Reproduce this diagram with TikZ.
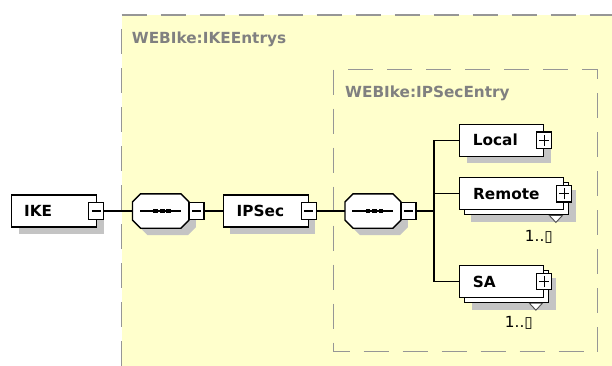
\documentclass[tikz,border=0pt]{standalone}
\usepackage{fontspec}
\setmainfont{DejaVu Sans}
\usetikzlibrary{shadows}
\definecolor{bgyellow}{RGB}{255,255,204}
\definecolor{dashgray}{RGB}{150,150,150}
\definecolor{labgray}{RGB}{128,128,128}
\definecolor{shgray}{RGB}{196,196,196}
\newcommand\octpath[1]{([xshift=8pt]#1.north west) -- ([xshift=-8pt]#1.north east) -- ([yshift=-8pt]#1.north east) -- ([yshift=8pt]#1.south east) -- ([xshift=-8pt]#1.south east) -- ([xshift=8pt]#1.south west) -- ([yshift=8pt]#1.south west) -- ([yshift=-8pt]#1.north west) -- cycle}
\begin{document}
\begin{tikzpicture}[x=1pt,y=1pt,
  conn/.style={line width=1.3pt, black},
  shad/.style={drop shadow={shadow xshift=7pt, shadow yshift=-7pt, fill=shgray, opacity=1}},
  elem/.style={draw=black, fill=white, line width=1.4pt, rectangle, inner sep=0pt, minimum height=32pt, anchor=west},
  hold/.style={rectangle, inner sep=0pt, minimum width=56pt, minimum height=34pt, anchor=west},
  etext/.style={anchor=west, inner sep=0pt, font=\fontsize{15.3}{18}\selectfont\bfseries},
  grouplab/.style={anchor=base west, inner sep=0pt, text=labgray, font=\fontsize{15.3}{18}\selectfont\bfseries},
  occ/.style={inner sep=0pt, font=\fontsize{15.3}{18}\selectfont},
  pmbox/.style={draw=black, fill=white, line width=1.1pt, rectangle, inner sep=0pt, minimum width=15pt, minimum height=16.5pt},
  minusbox/.style={pmbox, path picture={\draw[line width=1.1pt] ([xshift=-4.5pt]path picture bounding box.center) -- ([xshift=4.5pt]path picture bounding box.center);}},
  plusbox/.style={pmbox, path picture={\draw[line width=1.1pt] ([xshift=-5pt]path picture bounding box.center) -- ([xshift=5pt]path picture bounding box.center) ([yshift=-5.5pt]path picture bounding box.center) -- ([yshift=5.5pt]path picture bounding box.center);}},
  group/.style={draw=dashgray, line width=1.8pt, dash pattern=on 25pt off 14pt},
  vmark/.style={draw=black!70, fill=white, line width=0.9pt}
]
\useasboundingbox (0,0) rectangle (612,365);
\clip (0,0) rectangle (612,365);
\fill[white] (0,0) rectangle (612,365);

% outer group
\fill[bgyellow] (121.5,-20) rectangle (650,350);
\draw[group] (121.5,350) -- (650,350);
\draw[group, dash phase=25pt] (121.5,350) -- (121.5,-20);
\node[grouplab] (outerlab) at (131.7,321.7) {WEBIke:IKEEntrys};

% inner group
\draw[group] (333.5,295.5) rectangle (597.5,13.5);
\node[grouplab] (innerlab) at (345,267.3) {WEBIke:IPSecEntry};

% IKE
\node[elem, shad, minimum width=85pt] (ike) at (11,154) {};
\node[etext] (iket) at ([xshift=13pt]ike.west) {IKE};
\node[minusbox] (ikem) at ([xshift=-1pt]ike.east) {};

% sequence 1
\node[hold] (seq1) at (132.5,154) {};
\draw[line width=1.4pt, fill=white, shad] \octpath{seq1};
\draw[line width=1.2pt] ([xshift=-20.5pt]seq1.center) -- ([xshift=20.5pt]seq1.center);
\foreach \dx in {-5,1.5,8}
  \fill ([shift={(\dx pt-2.3pt,-2.3pt)}]seq1.center) rectangle ([shift={(\dx pt+2.3pt,2.3pt)}]seq1.center);
\node[minusbox] (seq1m) at (196.5,154) {};

% IPSec
\node[elem, shad, minimum width=85pt] (ipsec) at (222.5,154) {};
\node[etext] (ipsect) at ([xshift=14pt]ipsec.west) {IPSec};
\node[minusbox] (ipsecm) at (ipsec.east) {};

% sequence 2
\node[hold, minimum width=55.5pt] (seq2) at (345,154) {};
\draw[line width=1.4pt, fill=white, shad] \octpath{seq2};
\draw[line width=1.2pt] ([xshift=-20.5pt]seq2.center) -- ([xshift=20.5pt]seq2.center);
\foreach \dx in {-5,1.5,8}
  \fill ([shift={(\dx pt-2.3pt,-2.3pt)}]seq2.center) rectangle ([shift={(\dx pt+2.3pt,2.3pt)}]seq2.center);
\node[minusbox] (seq2m) at (408.5,154) {};

\coordinate (tr) at (434,154);

% Local
\node[elem, shad, minimum width=84pt] (local) at (459,224.75) {};
\node[etext] (localt) at ([xshift=13.7pt]local.west) {Local};
\node[plusbox] (localp) at (local.east) {};

% Remote (multiple)
\node[elem, shad, minimum width=104.5pt] (remoteb) at (463.5,166.25) {};
\node[elem, minimum width=104.5pt] (remote) at (458.5,171.25) {};
\node[etext] (remotet) at ([xshift=14.5pt]remote.west) {Remote};
\node[plusbox] (remotep) at (remote.east) {};
\draw[vmark] ([xshift=-20pt]remoteb.south east) -- ([xshift=-7pt]remoteb.south east) -- ([shift={(-13.5pt,-7pt)}]remoteb.south east) -- cycle;
\node[occ] (remoteo) at ([shift={(-25.5pt,-26.5pt)}]remote.south east) {1..▯};

% SA (multiple)
\node[elem, shad, minimum width=84pt] (sab) at (464,78.5) {};
\node[elem, minimum width=84pt] (sa) at (459,83.5) {};
\node[etext] (sat) at ([xshift=13.7pt]sa.west) {SA};
\node[plusbox] (sap) at (sa.east) {};
\draw[vmark] ([xshift=-20pt]sab.south east) -- ([xshift=-7pt]sab.south east) -- ([shift={(-13.5pt,-7pt)}]sab.south east) -- cycle;
\node[occ] (sao) at ([shift={(-25.5pt,-25pt)}]sa.south east) {1..▯};

% connectors
\draw[conn] (ikem.east) -- (seq1.west);
\draw[conn] (seq1m.east) -- (ipsec.west);
\draw[conn] (ipsecm.east) -- (seq2.west);
\draw[conn] (seq2m.east) -- (tr);
\draw[conn] (local.west) -- (local.west -| tr) -- (sa.west -| tr) -- (sa.west);
\draw[conn] (remote.west) -- (remote.west -| tr);
\end{tikzpicture}
\end{document}
